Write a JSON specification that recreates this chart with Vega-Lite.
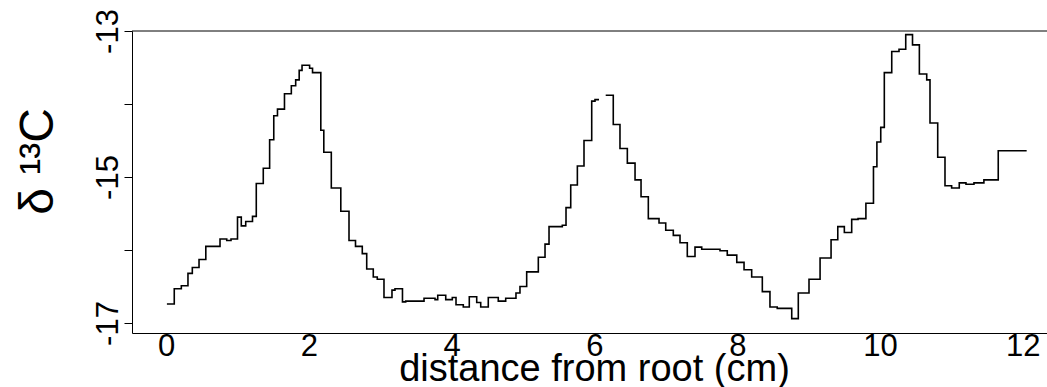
{
  "$schema": "https://vega.github.io/schema/vega-lite/v6.json",
  "width": 915,
  "height": 302,
  "autosize": {"type": "none"},
  "padding": {"left": 132, "top": 31, "right": 0, "bottom": 54},
  "background": "white",
  "config": {"view": {"stroke": null}, "font": "Liberation Sans"},
  "encoding": {
    "y": {
      "field": "d13C",
      "type": "quantitative",
      "scale": {"domain": [-17.137, -13], "zero": false, "nice": false},
      "axis": {
        "values": [-17, -16, -15, -14, -13],
        "labelExpr": "datum.value % 2 == 0 ? '' : toString(datum.value)",
        "labelAngle": -90,
        "labelAlign": "center",
        "labelBaseline": "alphabetic",
        "labelFontSize": 31,
        "labelColor": "black",
        "labelPadding": 7,
        "labelFlush": false,
        "labelOverlap": false,
        "tickColor": "black",
        "tickSize": 8,
        "domainColor": "black",
        "grid": false,
        "title": "δ ¹³C",
        "titleFontSize": 48,
        "titleFontWeight": "normal",
        "titleColor": "black",
        "titleAngle": -90,
        "titleAlign": "center",
        "titleBaseline": "alphabetic",
        "titleX": -80,
        "titleY": 130
      }
    }
  },
  "layer": [
    {
      "data": {"values": [{"d13C": -13}]},
      "mark": {"type": "rule", "color": "black", "strokeWidth": 1}
    },
    {
      "data": {
        "values": [
          {"distance": 0.01, "d13C": -16.74}, {"distance": 0.113, "d13C": -16.53}, {"distance": 0.212, "d13C": -16.49},
          {"distance": 0.305, "d13C": -16.32}, {"distance": 0.366, "d13C": -16.24}, {"distance": 0.46, "d13C": -16.13},
          {"distance": 0.555, "d13C": -15.95}, {"distance": 0.754, "d13C": -15.85}, {"distance": 0.848, "d13C": -15.87},
          {"distance": 0.908, "d13C": -15.85}, {"distance": 0.999, "d13C": -15.55}, {"distance": 1.052, "d13C": -15.67},
          {"distance": 1.114, "d13C": -15.61}, {"distance": 1.209, "d13C": -15.54}, {"distance": 1.262, "d13C": -15.09},
          {"distance": 1.36, "d13C": -14.88}, {"distance": 1.449, "d13C": -14.49}, {"distance": 1.507, "d13C": -14.16},
          {"distance": 1.559, "d13C": -14.07}, {"distance": 1.657, "d13C": -13.86}, {"distance": 1.753, "d13C": -13.75},
          {"distance": 1.814, "d13C": -13.67}, {"distance": 1.863, "d13C": -13.54}, {"distance": 1.903, "d13C": -13.47},
          {"distance": 2.009, "d13C": -13.51}, {"distance": 2.05, "d13C": -13.57}, {"distance": 2.166, "d13C": -14.36},
          {"distance": 2.208, "d13C": -14.66}, {"distance": 2.313, "d13C": -15.15}, {"distance": 2.446, "d13C": -15.47},
          {"distance": 2.561, "d13C": -15.87}, {"distance": 2.652, "d13C": -15.95}, {"distance": 2.747, "d13C": -16.05},
          {"distance": 2.809, "d13C": -16.26}, {"distance": 2.901, "d13C": -16.37}, {"distance": 2.957, "d13C": -16.4},
          {"distance": 3.051, "d13C": -16.65}, {"distance": 3.163, "d13C": -16.55}, {"distance": 3.205, "d13C": -16.53},
          {"distance": 3.31, "d13C": -16.71}, {"distance": 3.355, "d13C": -16.7}, {"distance": 3.612, "d13C": -16.66},
          {"distance": 3.766, "d13C": -16.68}, {"distance": 3.804, "d13C": -16.62}, {"distance": 3.916, "d13C": -16.68},
          {"distance": 4.008, "d13C": -16.65}, {"distance": 4.06, "d13C": -16.75}, {"distance": 4.162, "d13C": -16.78},
          {"distance": 4.246, "d13C": -16.64}, {"distance": 4.35, "d13C": -16.72}, {"distance": 4.406, "d13C": -16.78},
          {"distance": 4.512, "d13C": -16.65}, {"distance": 4.652, "d13C": -16.7}, {"distance": 4.756, "d13C": -16.66},
          {"distance": 4.9, "d13C": -16.59}, {"distance": 4.956, "d13C": -16.5}, {"distance": 5.05, "d13C": -16.3},
          {"distance": 5.213, "d13C": -16.1}, {"distance": 5.307, "d13C": -15.92}, {"distance": 5.363, "d13C": -15.68},
          {"distance": 5.549, "d13C": -15.66}, {"distance": 5.601, "d13C": -15.42}, {"distance": 5.667, "d13C": -15.11},
          {"distance": 5.76, "d13C": -14.85}, {"distance": 5.853, "d13C": -14.5}, {"distance": 5.961, "d13C": -13.96},
          {"distance": 6.007, "d13C": -13.94}, {"distance": 6.063, "d13C": -13.94}, {"distance": 6.1, "d13C": null},
          {"distance": 6.157, "d13C": -13.88}, {"distance": 6.263, "d13C": -14.28}, {"distance": 6.357, "d13C": -14.61},
          {"distance": 6.46, "d13C": -14.81}, {"distance": 6.568, "d13C": -15.04}, {"distance": 6.652, "d13C": -15.27},
          {"distance": 6.754, "d13C": -15.57}, {"distance": 6.904, "d13C": -15.63}, {"distance": 6.998, "d13C": -15.73},
          {"distance": 7.104, "d13C": -15.8}, {"distance": 7.198, "d13C": -15.9}, {"distance": 7.3, "d13C": -16.09},
          {"distance": 7.408, "d13C": -15.96}, {"distance": 7.502, "d13C": -15.99}, {"distance": 7.758, "d13C": -16.01},
          {"distance": 7.86, "d13C": -16.07}, {"distance": 7.993, "d13C": -16.17}, {"distance": 8.095, "d13C": -16.27},
          {"distance": 8.202, "d13C": -16.37}, {"distance": 8.351, "d13C": -16.57}, {"distance": 8.458, "d13C": -16.78},
          {"distance": 8.56, "d13C": -16.8}, {"distance": 8.763, "d13C": -16.94}, {"distance": 8.855, "d13C": -16.59},
          {"distance": 9.005, "d13C": -16.4}, {"distance": 9.16, "d13C": -16.11}, {"distance": 9.314, "d13C": -15.86},
          {"distance": 9.408, "d13C": -15.68}, {"distance": 9.5, "d13C": -15.76}, {"distance": 9.603, "d13C": -15.58},
          {"distance": 9.692, "d13C": -15.57}, {"distance": 9.802, "d13C": -15.36}, {"distance": 9.908, "d13C": -14.86},
          {"distance": 9.956, "d13C": -14.52}, {"distance": 10.01, "d13C": -14.32}, {"distance": 10.06, "d13C": -13.57},
          {"distance": 10.164, "d13C": -13.28}, {"distance": 10.266, "d13C": -13.25}, {"distance": 10.36, "d13C": -13.05},
          {"distance": 10.455, "d13C": -13.19}, {"distance": 10.551, "d13C": -13.59}, {"distance": 10.654, "d13C": -13.67},
          {"distance": 10.7, "d13C": -14.26}, {"distance": 10.808, "d13C": -14.73}, {"distance": 10.91, "d13C": -15.12},
          {"distance": 11.003, "d13C": -15.15}, {"distance": 11.11, "d13C": -15.08}, {"distance": 11.204, "d13C": -15.1},
          {"distance": 11.316, "d13C": -15.08}, {"distance": 11.455, "d13C": -15.04}, {"distance": 11.656, "d13C": -14.64},
          {"distance": 12.054, "d13C": -14.64}
        ]
      },
      "mark": {"type": "line", "interpolate": "step-after", "color": "black", "strokeWidth": 1.6},
      "encoding": {
        "x": {
          "field": "distance",
          "type": "quantitative",
          "scale": {"domain": [-0.479, 12.339], "zero": false, "nice": false},
          "axis": {
            "values": [0, 2, 4, 6, 8, 10, 12],
            "ticks": false,
            "tickSize": 0,
            "labelAngle": 0,
            "labelAlign": "center",
            "labelBaseline": "top",
            "labelFontSize": 31,
            "labelColor": "black",
            "labelPadding": -2,
            "labelFlush": false,
            "labelOverlap": false,
            "domainColor": "black",
            "grid": false,
            "title": "distance from root (cm)",
            "titleFontSize": 38,
            "titleFontWeight": "normal",
            "titleColor": "black",
            "titleAlign": "center",
            "titleBaseline": "alphabetic",
            "titleX": 462,
            "titleY": 47
          }
        }
      }
    }
  ]
}
